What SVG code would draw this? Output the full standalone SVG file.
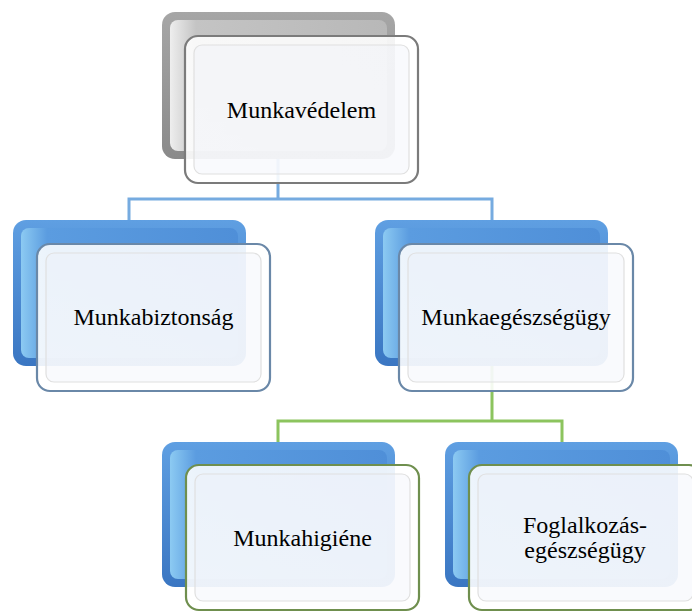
<svg xmlns="http://www.w3.org/2000/svg" width="692" height="612" viewBox="0 0 692 612">
<defs>
<linearGradient id="gBlue" x1="0" y1="0" x2="0" y2="1">
<stop offset="0" stop-color="#5f9fe2"/>
<stop offset="1" stop-color="#3a76c2"/>
</linearGradient>
<linearGradient id="gBlueIn" x1="0" y1="0" x2="1" y2="0">
<stop offset="0" stop-color="#8ccaf2"/>
<stop offset="0.12" stop-color="#5b9ce0"/>
<stop offset="1" stop-color="#4f8fd8"/>
</linearGradient>
<linearGradient id="gGray" x1="0" y1="0" x2="0" y2="1">
<stop offset="0" stop-color="#a6a6a6"/>
<stop offset="1" stop-color="#8a8a8a"/>
</linearGradient>
<linearGradient id="gGrayIn" x1="0" y1="0" x2="1" y2="0">
<stop offset="0" stop-color="#eeeeee"/>
<stop offset="0.12" stop-color="#c4c4c4"/>
<stop offset="1" stop-color="#b8b8b8"/>
</linearGradient>
<linearGradient id="gFace" x1="0" y1="0" x2="0" y2="1">
<stop offset="0" stop-color="#ffffff" stop-opacity="0.88"/>
<stop offset="1" stop-color="#ffffff" stop-opacity="0.9"/>
</linearGradient>
</defs>
<style>
.back{stroke:none}
.face{fill:url(#gFace);stroke-width:2.2}
.inner{fill:#eef2f8;fill-opacity:0.35;stroke:#e0e0e0;stroke-width:1.2}
.fg{stroke:#7b7b7b}
.fb{stroke:#6a88a8}
.fgr{stroke:#6f8f4e}
.lbl{font-family:'Liberation Serif','Times New Roman',serif;font-size:24px;font-weight:normal;fill:#000;text-anchor:middle}
.cb{fill:none;stroke:#76abe0;stroke-width:3}
.cg{fill:none;stroke:#8cc45e;stroke-width:3}
</style>
<g id="connectors">
<path class="cb" d="M278,158 V199 M129,222 V199 H492 V222"/>
<path class="cg" d="M492,366 V421 M278,444 V421 H562 V444"/>
</g>
<g id="n-munkavedelem">
<rect class="back" x="162" y="12" width="233" height="147" rx="13" fill="url(#gGray)"/>
<rect x="170" y="20" width="217" height="131" rx="8" fill="url(#gGrayIn)"/>
<rect class="face fg" x="185" y="36" width="233" height="147" rx="13"/>
<rect class="inner" x="194" y="45" width="215" height="129" rx="8"/>
<text class="lbl" font-family="Liberation Serif, Times New Roman, serif" x="301.5" y="118">Munkavédelem</text>
</g>
<g id="n-munkabiztonsag">
<rect class="back" x="13" y="220" width="233" height="146" rx="13" fill="url(#gBlue)"/>
<rect x="21" y="228" width="217" height="130" rx="8" fill="url(#gBlueIn)"/>
<rect class="face fb" x="37" y="244" width="233" height="147" rx="13"/>
<rect class="inner" x="46" y="253" width="215" height="129" rx="8"/>
<text class="lbl" font-family="Liberation Serif, Times New Roman, serif" x="153.5" y="325">Munkabiztonság</text>
</g>
<g id="n-munkaegeszsegugy">
<rect class="back" x="375" y="220" width="233" height="146" rx="13" fill="url(#gBlue)"/>
<rect x="383" y="228" width="217" height="130" rx="8" fill="url(#gBlueIn)"/>
<rect class="face fb" x="399" y="244" width="234" height="147" rx="13"/>
<rect class="inner" x="408" y="253" width="216" height="129" rx="8"/>
<text class="lbl" font-family="Liberation Serif, Times New Roman, serif" x="516" y="325">Munkaegészségügy</text>
</g>
<g id="n-munkahigiene">
<rect class="back" x="162" y="442" width="233" height="145" rx="13" fill="url(#gBlue)"/>
<rect x="170" y="450" width="217" height="129" rx="8" fill="url(#gBlueIn)"/>
<rect class="face fgr" x="186" y="465" width="233" height="145" rx="13"/>
<rect class="inner" x="195" y="474" width="215" height="127" rx="8"/>
<text class="lbl" font-family="Liberation Serif, Times New Roman, serif" x="302.5" y="546">Munkahigiéne</text>
</g>
<g id="n-foglalkozas">
<rect class="back" x="445" y="442" width="233" height="145" rx="13" fill="url(#gBlue)"/>
<rect x="453" y="450" width="217" height="129" rx="8" fill="url(#gBlueIn)"/>
<rect class="face fgr" x="469" y="465" width="233" height="145" rx="13"/>
<rect class="inner" x="478" y="474" width="215" height="127" rx="8"/>
<text class="lbl" font-family="Liberation Serif, Times New Roman, serif" x="585" y="533">Foglalkozás-</text>
<text class="lbl" font-family="Liberation Serif, Times New Roman, serif" x="585" y="558">egészségügy</text>
</g>
</svg>
